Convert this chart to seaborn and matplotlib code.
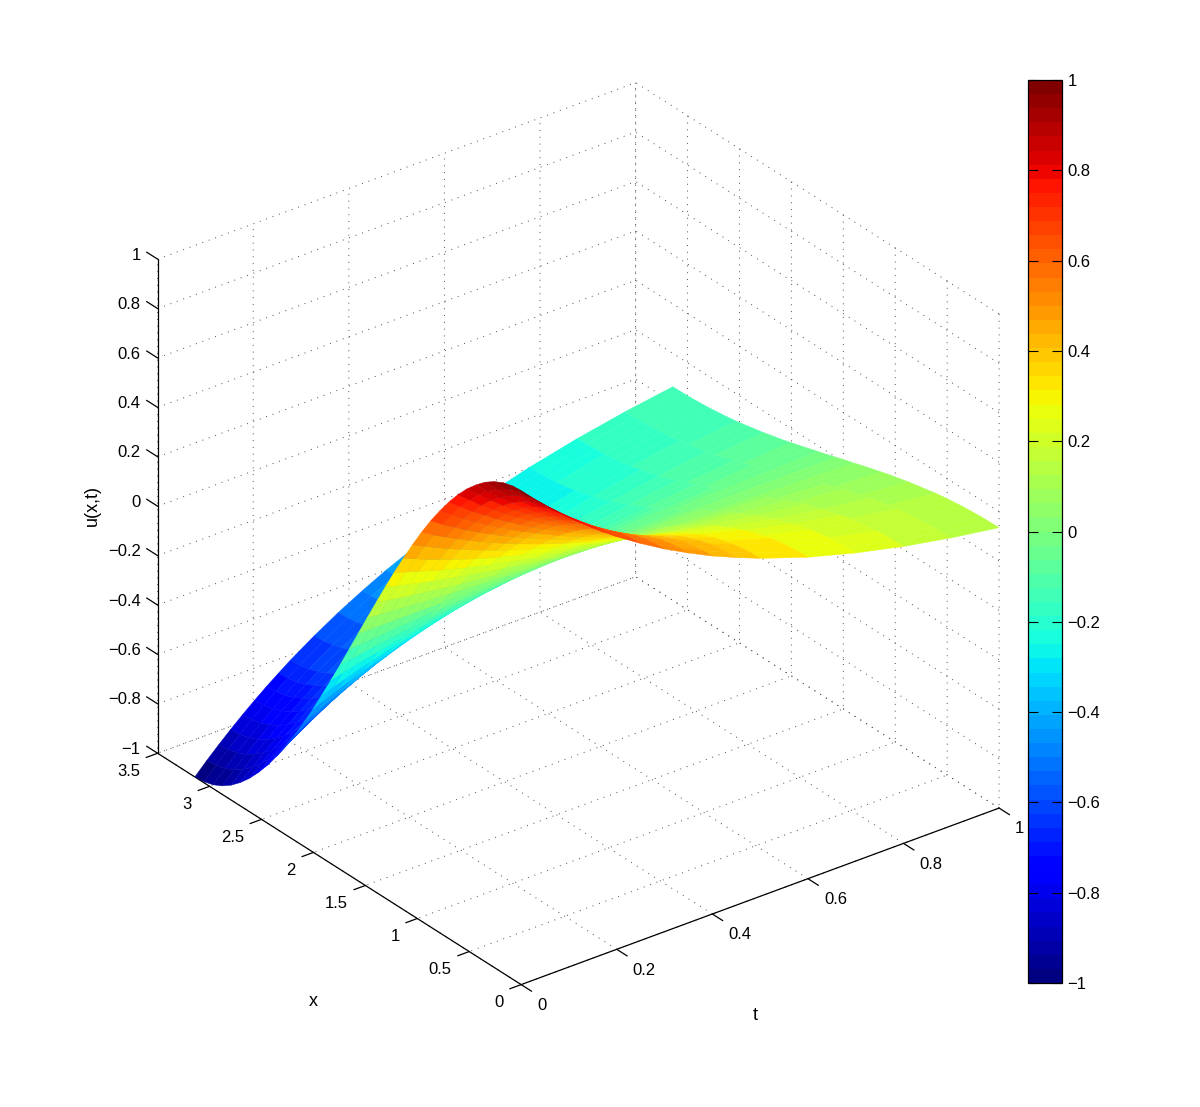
import numpy as np
import matplotlib
matplotlib.use("Agg")
import matplotlib.pyplot as plt
from matplotlib.transforms import ScaledTranslation
import seaborn as sns

# ============================
# DATA
# ============================
x_vals = [0.000, 0.087, 0.175, 0.262, 0.349, 0.436, 0.524, 0.611, 0.698, 0.785, 0.873, 0.960, 1.047,
          1.134, 1.222, 1.309, 1.396, 1.484, 1.571, 1.658, 1.745, 1.833, 1.920, 2.007, 2.094, 2.182,
          2.269, 2.356, 2.443, 2.531, 2.618, 2.705, 2.793, 2.880, 2.967, 3.054, 3.142]
t_vals = [0, 0.025, 0.05, 0.075, 0.1, 0.125, 0.15, 0.175, 0.2, 0.25, 0.3, 0.35, 0.4, 0.45, 0.5, 0.6, 0.7, 0.8, 0.9, 1.0]

# one row per x value, one column per t value
u_rows = [
    [1.000, 0.951, 0.905, 0.861, 0.819, 0.779, 0.741, 0.705, 0.670, 0.607, 0.549, 0.497, 0.449, 0.407, 0.368, 0.301, 0.247, 0.202, 0.165, 0.135],
    [0.996, 0.947, 0.902, 0.858, 0.816, 0.776, 0.738, 0.702, 0.667, 0.605, 0.547, 0.495, 0.447, 0.405, 0.367, 0.300, 0.246, 0.201, 0.164, 0.134],
    [0.985, 0.937, 0.891, 0.848, 0.807, 0.767, 0.730, 0.694, 0.660, 0.598, 0.541, 0.489, 0.442, 0.401, 0.362, 0.296, 0.243, 0.199, 0.162, 0.133],
    [0.966, 0.919, 0.874, 0.832, 0.791, 0.752, 0.716, 0.681, 0.647, 0.586, 0.530, 0.480, 0.434, 0.393, 0.355, 0.291, 0.239, 0.195, 0.159, 0.130],
    [0.940, 0.894, 0.850, 0.809, 0.770, 0.732, 0.696, 0.662, 0.630, 0.570, 0.516, 0.467, 0.422, 0.382, 0.346, 0.283, 0.232, 0.190, 0.155, 0.127],
    [0.906, 0.862, 0.820, 0.780, 0.742, 0.706, 0.672, 0.639, 0.607, 0.550, 0.498, 0.450, 0.407, 0.369, 0.334, 0.273, 0.224, 0.183, 0.150, 0.122],
    [0.866, 0.824, 0.784, 0.746, 0.709, 0.675, 0.642, 0.611, 0.580, 0.526, 0.475, 0.430, 0.389, 0.352, 0.319, 0.261, 0.214, 0.175, 0.143, 0.117],
    [0.819, 0.779, 0.741, 0.705, 0.671, 0.638, 0.607, 0.578, 0.549, 0.497, 0.450, 0.407, 0.368, 0.333, 0.301, 0.247, 0.202, 0.165, 0.135, 0.111],
    [0.766, 0.728, 0.693, 0.660, 0.627, 0.597, 0.568, 0.540, 0.513, 0.465, 0.421, 0.381, 0.344, 0.312, 0.282, 0.231, 0.189, 0.155, 0.126, 0.103],
    [0.707, 0.672, 0.640, 0.609, 0.579, 0.551, 0.524, 0.499, 0.474, 0.429, 0.388, 0.351, 0.317, 0.288, 0.260, 0.213, 0.175, 0.143, 0.117, 0.095],
    [0.643, 0.611, 0.582, 0.553, 0.526, 0.501, 0.476, 0.453, 0.431, 0.390, 0.353, 0.319, 0.289, 0.262, 0.237, 0.193, 0.159, 0.130, 0.106, 0.087],
    [0.574, 0.545, 0.519, 0.494, 0.470, 0.447, 0.425, 0.404, 0.384, 0.348, 0.315, 0.285, 0.258, 0.233, 0.211, 0.173, 0.142, 0.116, 0.095, 0.077],
    [0.500, 0.476, 0.453, 0.431, 0.410, 0.390, 0.371, 0.353, 0.335, 0.304, 0.275, 0.249, 0.225, 0.204, 0.184, 0.151, 0.124, 0.101, 0.083, 0.068],
    [0.423, 0.402, 0.382, 0.364, 0.346, 0.329, 0.313, 0.298, 0.283, 0.257, 0.232, 0.210, 0.190, 0.172, 0.156, 0.127, 0.104, 0.085, 0.070, 0.057],
    [0.342, 0.325, 0.310, 0.294, 0.280, 0.266, 0.253, 0.241, 0.229, 0.208, 0.188, 0.170, 0.154, 0.139, 0.126, 0.103, 0.084, 0.069, 0.056, 0.046],
    [0.259, 0.246, 0.234, 0.223, 0.212, 0.202, 0.192, 0.182, 0.173, 0.157, 0.142, 0.129, 0.116, 0.105, 0.095, 0.078, 0.064, 0.052, 0.043, 0.035],
    [0.174, 0.165, 0.157, 0.149, 0.142, 0.135, 0.129, 0.122, 0.116, 0.105, 0.095, 0.086, 0.078, 0.071, 0.064, 0.052, 0.043, 0.035, 0.029, 0.023],
    [0.087, 0.083, 0.079, 0.075, 0.071, 0.068, 0.065, 0.061, 0.058, 0.053, 0.048, 0.043, 0.039, 0.035, 0.032, 0.026, 0.022, 0.018, 0.014, 0.012],
    [0.000, 0.000, 0.000, 0.000, 0.000, 0.000, 0.000, 0.000, 0.000, 0.000, 0.000, 0.000, 0.000, 0.000, 0.000, 0.000, 0.000, 0.000, 0.000, 0.000],
    [-0.087, -0.083, -0.079, -0.075, -0.071, -0.068, -0.065, -0.061, -0.058, -0.053, -0.048, -0.043, -0.039, -0.035, -0.032, -0.026, -0.022, -0.018, -0.014, -0.012],
    [-0.174, -0.165, -0.157, -0.149, -0.142, -0.135, -0.129, -0.122, -0.116, -0.105, -0.095, -0.086, -0.078, -0.071, -0.064, -0.052, -0.043, -0.035, -0.029, -0.023],
    [-0.259, -0.246, -0.234, -0.223, -0.212, -0.202, -0.192, -0.182, -0.173, -0.157, -0.142, -0.129, -0.116, -0.105, -0.095, -0.078, -0.064, -0.052, -0.043, -0.035],
    [-0.342, -0.325, -0.310, -0.294, -0.280, -0.266, -0.253, -0.241, -0.229, -0.208, -0.188, -0.170, -0.154, -0.139, -0.126, -0.103, -0.084, -0.069, -0.056, -0.046],
    [-0.423, -0.402, -0.382, -0.364, -0.346, -0.329, -0.313, -0.298, -0.283, -0.257, -0.232, -0.210, -0.190, -0.172, -0.156, -0.127, -0.104, -0.085, -0.070, -0.057],
    [-0.500, -0.476, -0.453, -0.431, -0.410, -0.390, -0.371, -0.353, -0.335, -0.304, -0.275, -0.249, -0.225, -0.204, -0.184, -0.151, -0.124, -0.101, -0.083, -0.068],
    [-0.574, -0.545, -0.519, -0.494, -0.470, -0.447, -0.425, -0.404, -0.384, -0.348, -0.315, -0.285, -0.258, -0.233, -0.211, -0.173, -0.142, -0.116, -0.095, -0.077],
    [-0.643, -0.611, -0.582, -0.553, -0.526, -0.501, -0.476, -0.453, -0.431, -0.390, -0.353, -0.319, -0.289, -0.262, -0.237, -0.193, -0.159, -0.130, -0.106, -0.087],
    [-0.707, -0.672, -0.640, -0.609, -0.579, -0.551, -0.524, -0.499, -0.474, -0.429, -0.388, -0.351, -0.317, -0.288, -0.260, -0.213, -0.175, -0.143, -0.117, -0.095],
    [-0.766, -0.728, -0.693, -0.660, -0.627, -0.597, -0.568, -0.540, -0.513, -0.465, -0.421, -0.381, -0.344, -0.312, -0.282, -0.231, -0.189, -0.155, -0.126, -0.103],
    [-0.819, -0.779, -0.741, -0.705, -0.671, -0.638, -0.607, -0.578, -0.549, -0.497, -0.450, -0.407, -0.368, -0.333, -0.301, -0.247, -0.202, -0.165, -0.135, -0.111],
    [-0.866, -0.824, -0.784, -0.746, -0.709, -0.675, -0.642, -0.611, -0.580, -0.526, -0.475, -0.430, -0.389, -0.352, -0.319, -0.261, -0.214, -0.175, -0.143, -0.117],
    [-0.906, -0.862, -0.820, -0.780, -0.742, -0.706, -0.672, -0.639, -0.607, -0.550, -0.498, -0.450, -0.407, -0.369, -0.334, -0.273, -0.224, -0.183, -0.150, -0.122],
    [-0.940, -0.894, -0.850, -0.809, -0.770, -0.732, -0.696, -0.662, -0.630, -0.570, -0.516, -0.467, -0.422, -0.382, -0.346, -0.283, -0.232, -0.190, -0.155, -0.127],
    [-0.966, -0.919, -0.874, -0.832, -0.791, -0.752, -0.716, -0.681, -0.647, -0.586, -0.530, -0.480, -0.434, -0.393, -0.355, -0.291, -0.239, -0.195, -0.159, -0.130],
    [-0.985, -0.937, -0.891, -0.848, -0.807, -0.767, -0.730, -0.694, -0.660, -0.598, -0.541, -0.489, -0.442, -0.401, -0.362, -0.296, -0.243, -0.199, -0.162, -0.133],
    [-0.996, -0.947, -0.902, -0.858, -0.816, -0.776, -0.738, -0.702, -0.667, -0.605, -0.547, -0.495, -0.447, -0.405, -0.367, -0.300, -0.246, -0.201, -0.164, -0.134],
    [-1.000, -0.951, -0.905, -0.861, -0.819, -0.779, -0.741, -0.705, -0.670, -0.607, -0.549, -0.497, -0.449, -0.407, -0.368, -0.301, -0.247, -0.202, -0.165, -0.135],
]

t_ticks = [0, 0.2, 0.4, 0.6, 0.8, 1]
t_labels = ["0", "0.2", "0.4", "0.6", "0.8", "1"]
x_ticks = [0, 0.5, 1, 1.5, 2, 2.5, 3, 3.5]
x_labels = ["0", "0.5", "1", "1.5", "2", "2.5", "3", "3.5"]
u_ticks = [-1, -0.8, -0.6, -0.4, -0.2, 0, 0.2, 0.4, 0.6, 0.8, 1]
u_labels = ["\u22121", "\u22120.8", "\u22120.6", "\u22120.4", "\u22120.2", "0", "0.2", "0.4", "0.6", "0.8", "1"]

# ============================
# STYLE
# ============================
sns.set_theme(style="ticks")
plt.rcParams["font.family"] = ["Liberation Sans", "DejaVu Sans"]
plt.rcParams["font.size"] = 12
plt.rcParams["text.color"] = "black"
plt.rcParams["grid.color"] = "0.3"
plt.rcParams["grid.linewidth"] = 0.7
plt.rcParams["grid.linestyle"] = (0, (1, 6))

# seaborn refuses the name "jet", so it comes from matplotlib
jet = matplotlib.colormaps["jet"].resampled(64)
norm = matplotlib.colors.Normalize(vmin=-1, vmax=1)

fig = plt.figure(figsize=(12, 11.07), dpi=100)
ax = fig.add_axes([70 / 1200, (1107 - 1042) / 1107, 990 / 1200, 990 / 1107], projection="3d", proj_type="ortho")
ax.set_box_aspect((602, 601, 566))
ax.view_init(elev=29, azim=-127.3)

# ============================
# SURFACE
# ============================
T, X = np.meshgrid(t_vals, x_vals)
U = np.array(u_rows)
surf = ax.plot_surface(T, X, U, cmap=jet, norm=norm, rstride=1, cstride=1, linewidth=0.3,
                       antialiased=True, shade=False)

ax.set_xlim(0, 1, view_margin=0)
ax.set_ylim(0, 3.5, view_margin=0)
ax.set_zlim(-1, 1, view_margin=0)
surf.set_edgecolor("face")

ax.set_xticks(t_ticks, t_labels)
ax.set_yticks(x_ticks, x_labels)
ax.set_zticks(u_ticks, u_labels)
ax.tick_params(axis="both", labelsize=12, colors="black")
ax.tick_params(axis="x", pad=5.25)
ax.tick_params(axis="y", pad=4.5)
ax.tick_params(axis="z", pad=-1.4)


# mplot3d resets the label transforms at draw, so the nudge goes in get_transform (pixels at dpi 100, y up)
def place_labels(labels, ha, dx, dy):
    moved = ax.transData + ScaledTranslation(dx / 100, dy / 100, fig.dpi_scale_trans)
    for label in labels:
        label.set_ha(ha)
        label.set_va("center")
        label.get_transform = lambda: moved


place_labels(ax.get_xticklabels(), "left", 3, 5)
place_labels(ax.get_yticklabels(), "right", -1.5, 4.5)
place_labels(ax.get_zticklabels(), "right", -2, 3)

# z ticks run along the x direction, as in the original
ax.zaxis._get_tickdir = lambda pos: 1

for axis in [ax.xaxis, ax.yaxis, ax.zaxis]:
    axis.set_pane_color((1, 1, 1, 0))
    axis.pane.set_edgecolor((1, 1, 1, 0))
    axis.line.set_color("black")
    axis.line.set_linewidth(0.9)
    axis._axinfo["tick"]["linewidth"] = {True: 0.9, False: 0.9}
    axis._axinfo["tick"]["color"] = "black"
ax.xaxis._axinfo["tick"].update(inward_factor=0.36, outward_factor=0)
ax.yaxis._axinfo["tick"].update(inward_factor=0.3, outward_factor=0)
ax.zaxis._axinfo["tick"].update(inward_factor=0, outward_factor=0.38)

fig.text(755 / 1200, 1 - 1015 / 1107, "t", ha="center", va="center", fontsize=13)
fig.text(313 / 1200, 1 - 1002 / 1107, "x", ha="center", va="center", fontsize=13)
fig.text(92 / 1200, 1 - 505 / 1107, "u(x,t)", ha="center", va="center", rotation=90, fontsize=13)

# ============================
# COLORBAR
# ============================
cax = fig.add_axes([1028 / 1200, 1 - 983 / 1107, 34 / 1200, 903 / 1107])
sm = matplotlib.cm.ScalarMappable(norm=norm, cmap=jet)
cb = fig.colorbar(sm, cax=cax)
cb.set_ticks(u_ticks, labels=u_labels)
cb.ax.set_axisbelow(False)
cb.ax.tick_params(axis="y", direction="in", length=7, width=0.8, left=True, right=True,
                  labelsize=12, pad=4, color="black", labelcolor="black")
cb.outline.set_linewidth(0.9)
cb.outline.set_edgecolor("black")

plt.savefig("out.png", dpi=100)
plt.close()
